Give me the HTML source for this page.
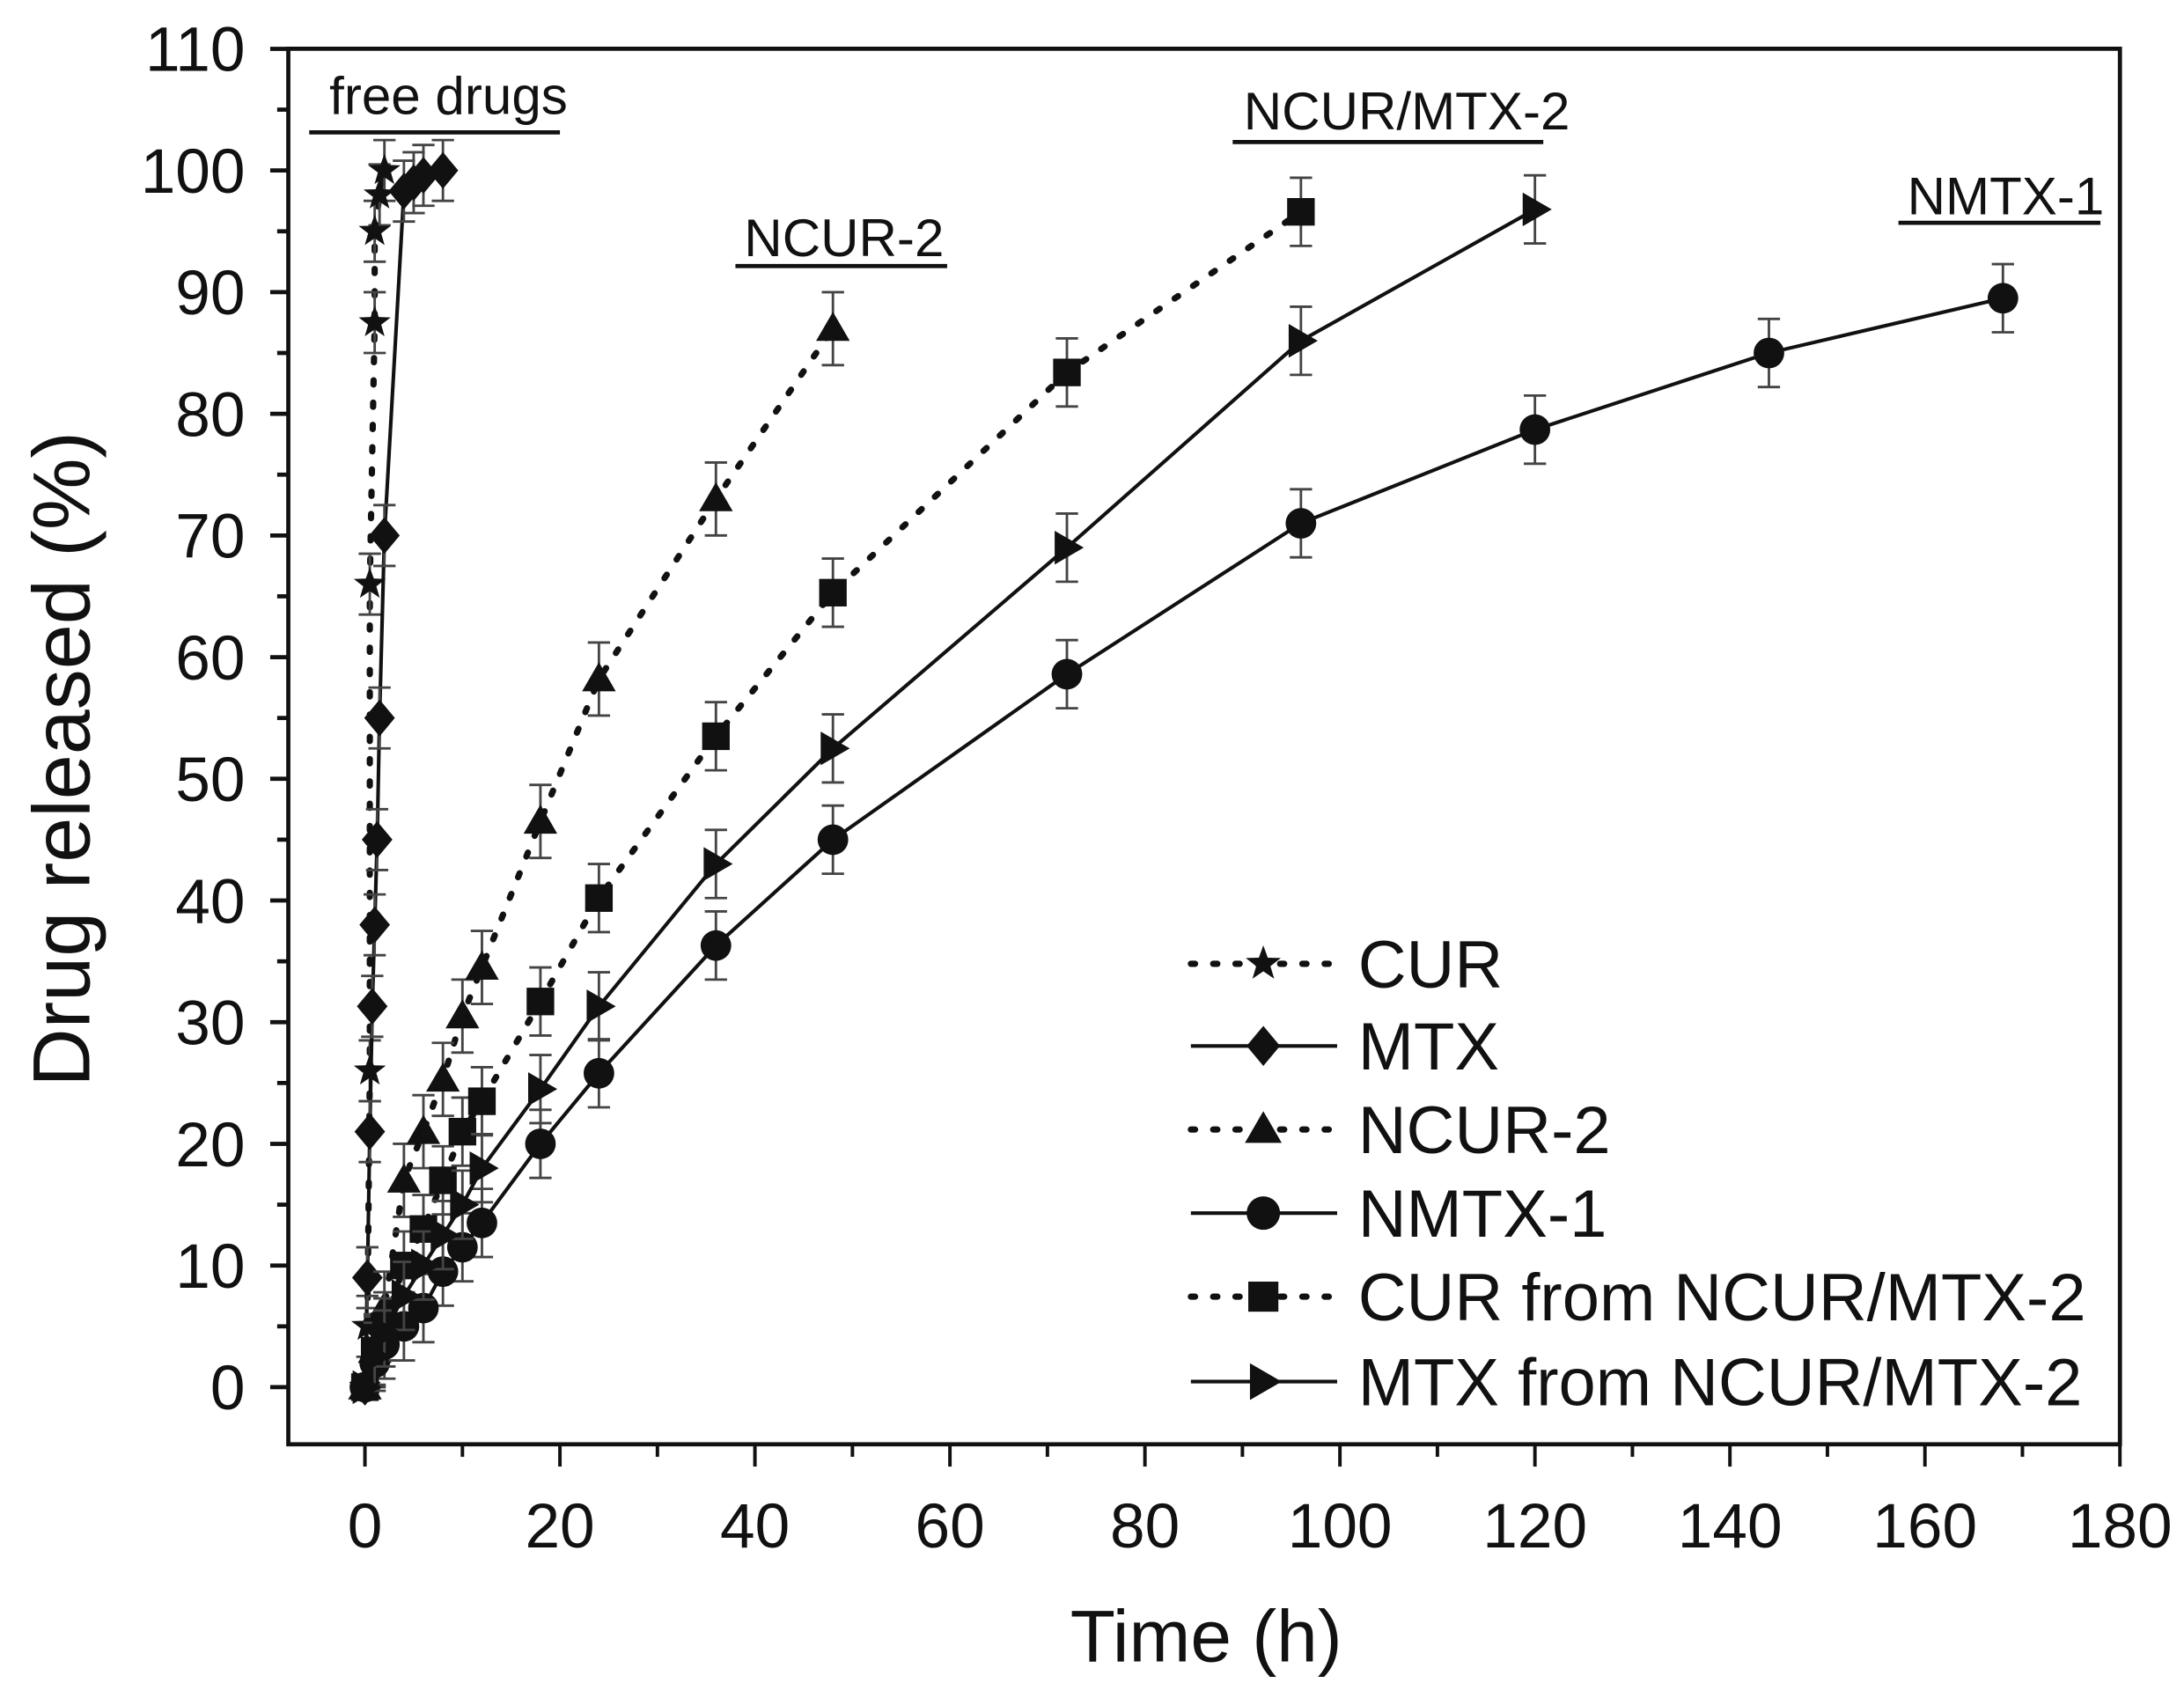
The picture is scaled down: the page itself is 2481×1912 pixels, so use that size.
<!DOCTYPE html>
<html><head><meta charset="utf-8"><style>
html,body{margin:0;padding:0;background:#fff}
svg{display:block}
text{font-family:"Liberation Sans",Arial,sans-serif;fill:#111}
</style></head><body>
<svg id="c" xmlns="http://www.w3.org/2000/svg" width="2481" height="1912" viewBox="0 0 1568 1208.4" preserveAspectRatio="none">
<rect x="0" y="0" width="1568" height="1208.4" fill="#fff"/>
<g id="g"></g>
</svg>
<script>
const X=h=>262+h*7, Y=v=>996-v*8.736;
let s='';
s+='<rect x="207" y="35" width="1315" height="1002" fill="none" stroke="#111" stroke-width="3"/>';
for(let v=0;v<=110;v+=5){const y=Y(v);const maj=v%10==0;s+=`<line x1="${maj?194:199}" y1="${y}" x2="207" y2="${y}" stroke="#111" stroke-width="3"/>`;
 if(maj)s+=`<text x="176" y="${y+16}" font-size="45" text-anchor="end">${v}</text>`;}
for(let h=0;h<=180;h+=10){const x=X(h);const maj=h%20==0;s+=`<line x1="${x}" y1="1037" x2="${x}" y2="${maj?1053:1046}" stroke="#111" stroke-width="2.5"/>`;
 if(maj)s+=`<text x="${x}" y="1111" font-size="45" text-anchor="middle">${h}</text>`;}
s+='<text x="866" y="1193" font-size="53" text-anchor="middle">Time (h)</text>';
s+='<text transform="translate(64,545) rotate(-90)" font-size="58" text-anchor="middle">Drug released (%)</text>';
const ann=[["free drugs",322,82,222,402,95],["NCUR-2",606,184,528,680,191],["NCUR/MTX-2",1010,93,885,1108,102],["NMTX-1",1440,154,1363,1508,160]];
for(const a of ann){s+=`<text x="${a[1]}" y="${a[2]}" font-size="38" text-anchor="middle">${a[0]}</text><line x1="${a[3]}" y1="${a[5]}" x2="${a[4]}" y2="${a[5]}" stroke="#111" stroke-width="3"/>`;}
function mk(t,x,y,r){r=r||11;
 if(t=='star'){let p=[];for(let i=0;i<10;i++){const a=-Math.PI/2+i*Math.PI/5,rr=i%2?r*0.45:r*1.1;p.push((x+rr*Math.cos(a)).toFixed(1)+','+(y+rr*Math.sin(a)).toFixed(1));}return `<polygon points="${p.join(' ')}" fill="#111"/>`;}
 if(t=='dia')return `<polygon points="${x},${y-r*1.2} ${x+r},${y} ${x},${y+r*1.2} ${x-r},${y}" fill="#111"/>`;
 if(t=='tri')return `<polygon points="${x},${y-r*1.1} ${x+r*1.1},${y+r*0.8} ${x-r*1.1},${y+r*0.8}" fill="#111"/>`;
 if(t=='cir')return `<circle cx="${x}" cy="${y}" r="${r}" fill="#111"/>`;
 if(t=='sq')return `<rect x="${x-r*0.9}" y="${y-r*0.9}" width="${r*1.8}" height="${r*1.8}" fill="#111"/>`;
 if(t=='rt')return `<polygon points="${x-r*0.8},${y-r*1.1} ${x+r*1.1},${y} ${x-r*0.8},${y+r*1.1}" fill="#111"/>`;}
const series=[
 ['star',true,[[0,0],[0.25,5],[0.5,26],[0.5,66],[1,87.5],[1,95],[1.5,98],[2,100]],2.5],
 ['dia',false,[[0,0],[0.25,9],[0.5,21],[0.75,31.3],[1,38],[1.25,45],[1.5,55],[2,70],[4,98.3],[5,99],[6,99.6],[8,100]],2.5],
 ['tri',true,[[0,0],[1,3],[2,6.5],[4,17],[6,21],[8,25.3],[10,30.5],[12,34.5],[18,46.5],[24,58.2],[36,73],[48,87]],3],
 ['cir',false,[[0,0],[1,2],[2,3.5],[4,5],[6,6.5],[8,9.5],[10,11.5],[12,13.5],[18,20],[24,25.8],[36,36.3],[48,45],[72,58.6],[96,71],[120,78.7],[144,85],[168,89.5]],2.8],
 ['sq',true,[[0,0],[1,3],[2,5],[4,10],[6,13],[8,17],[10,21],[12,23.5],[18,31.7],[24,40.2],[36,53.5],[48,65.3],[72,83.4],[96,96.6]],2.8],
 ['rt',false,[[0,0],[1,2.5],[2,4.5],[4,7.5],[6,10],[8,12.5],[10,15],[12,18],[18,24.5],[24,31.3],[36,43],[48,52.5],[72,69],[96,86],[120,96.8]],2.8]];
for(const [t,dot,pts,e] of series){
 const d=pts.map((p,i)=>(i?'L':'M')+X(p[0]).toFixed(1)+','+Y(p[1]).toFixed(1)).join('');
 s+=`<path d="${d}" fill="none" stroke="#111" stroke-width="${dot?4.5:2.6}" ${dot?'stroke-dasharray="3 13" stroke-linecap="round"':''}/>`;
 for(const p of pts){const x=X(p[0]);if(p[1]>2){const y1=Y(p[1]+e),y2=Y(p[1]-e);
  s+=`<line x1="${x}" y1="${y1}" x2="${x}" y2="${y2}" stroke="#444" stroke-width="1.8"/><line x1="${x-8}" y1="${y1}" x2="${x+8}" y2="${y1}" stroke="#444" stroke-width="1.8"/><line x1="${x-8}" y1="${y2}" x2="${x+8}" y2="${y2}" stroke="#444" stroke-width="1.8"/>`;}
 }
 for(const p of pts)s+=mk(t,X(p[0]),Y(p[1]));
}
const leg=[['star',true,'CUR'],['dia',false,'MTX'],['tri',true,'NCUR-2'],['cir',false,'NMTX-1'],['sq',true,'CUR from NCUR/MTX-2'],['rt',false,'MTX from NCUR/MTX-2']];
const ly=[692,751,811,871,931,992];
leg.forEach((l,i)=>{const y=ly[i];
 s+=`<line x1="855" y1="${y}" x2="960" y2="${y}" stroke="#111" stroke-width="${l[1]?4.5:2.6}" ${l[1]?'stroke-dasharray="3 13" stroke-linecap="round"':''}/>`;
 s+=mk(l[0],907,y,12);
 s+=`<text x="975" y="${y+17}" font-size="48">${l[2]}</text>`;});
document.getElementById('g').innerHTML=s;
</script>
</body></html>
